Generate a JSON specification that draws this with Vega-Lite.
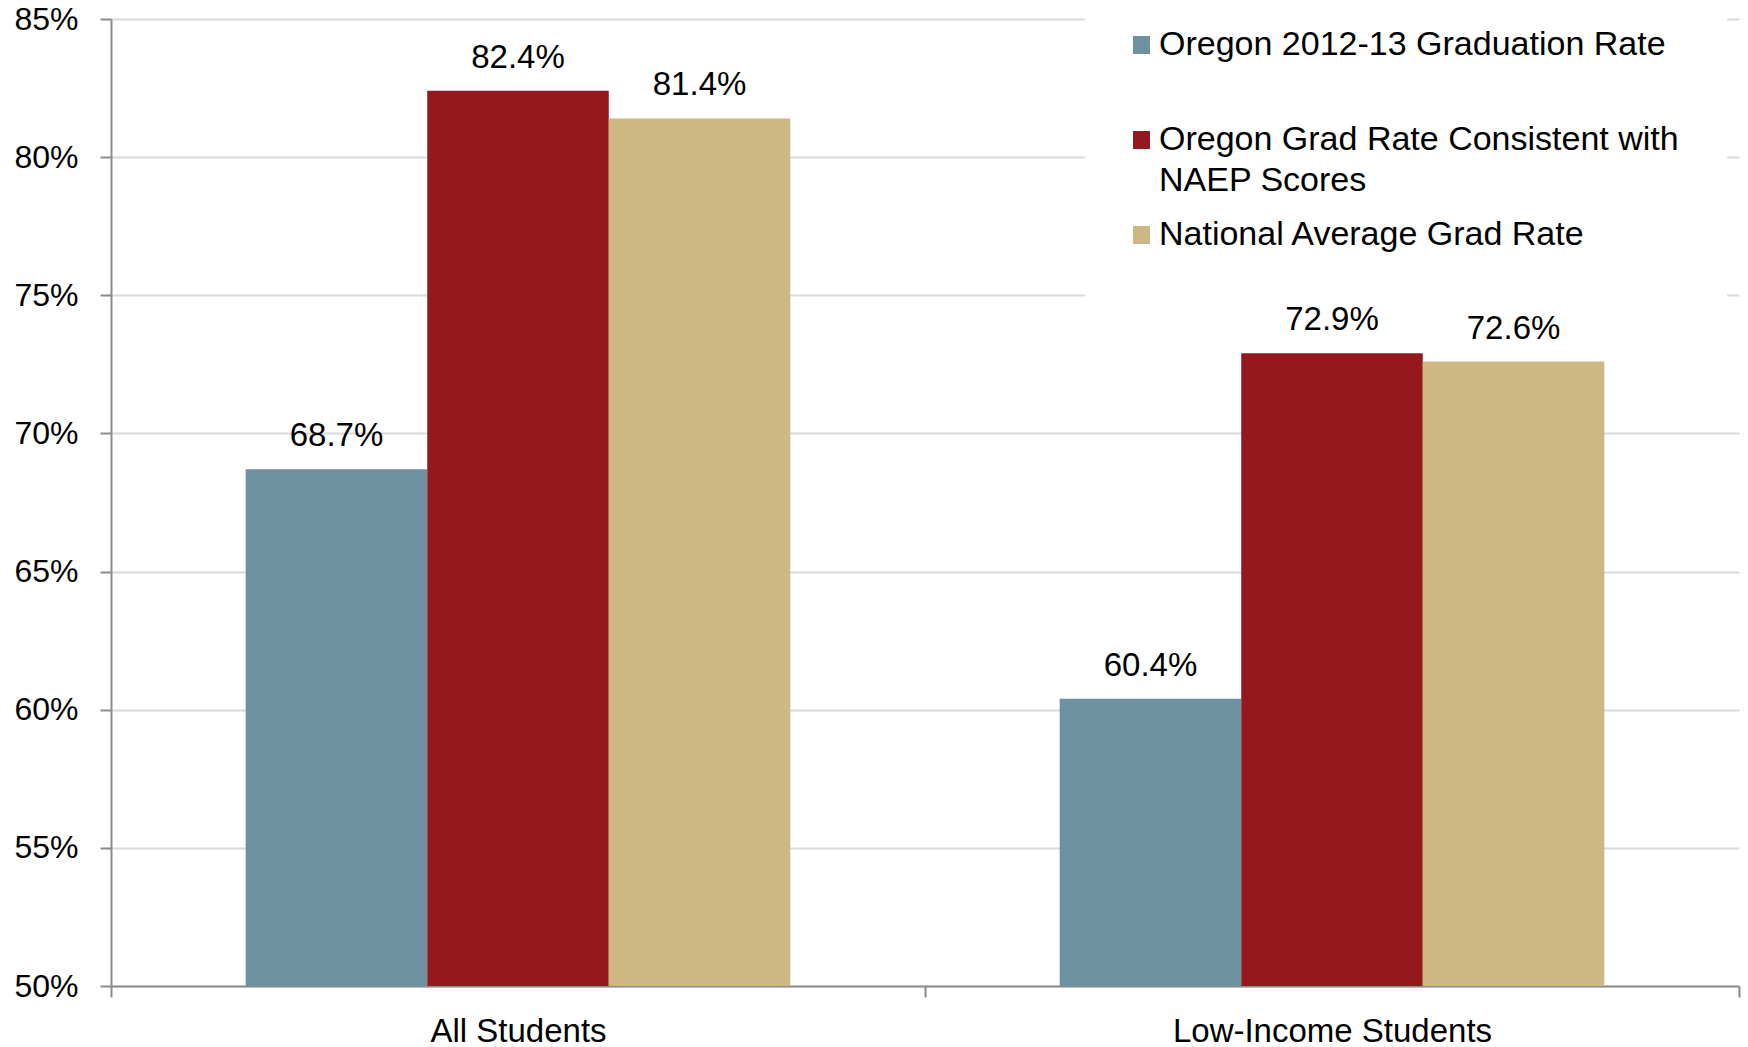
{
  "$schema": "https://vega.github.io/schema/vega-lite/v6.json",
  "width": 1628,
  "height": 967,
  "autosize": "none",
  "padding": {"left": 111, "top": 19, "right": 9, "bottom": 61},
  "background": "white",
  "config": {"view": {"stroke": null}},
  "data": {
    "values": [
      {"group": "All Students", "series": "Oregon 2012-13 Graduation Rate", "rate": 0.687},
      {"group": "All Students", "series": "Oregon Grad Rate Consistent with NAEP Scores", "rate": 0.824},
      {"group": "All Students", "series": "National Average Grad Rate", "rate": 0.814},
      {"group": "Low-Income Students", "series": "Oregon 2012-13 Graduation Rate", "rate": 0.604},
      {"group": "Low-Income Students", "series": "Oregon Grad Rate Consistent with NAEP Scores", "rate": 0.729},
      {"group": "Low-Income Students", "series": "National Average Grad Rate", "rate": 0.726}
    ]
  },
  "encoding": {
    "x": {
      "field": "group",
      "type": "nominal",
      "sort": null,
      "scale": {"paddingInner": 0, "paddingOuter": 0},
      "axis": {
        "title": null,
        "labelAngle": 0,
        "labelFont": "Liberation Sans",
        "labelFontSize": 33,
        "labelColor": "black",
        "labelPadding": 18,
        "labelLimit": 1000,
        "tickSize": 11,
        "tickColor": "#8c8c8c",
        "tickWidth": 2,
        "tickBand": "extent",
        "domainColor": "#8c8c8c",
        "domainWidth": 2,
        "grid": false
      }
    },
    "xOffset": {
      "field": "series",
      "type": "nominal",
      "sort": ["Oregon 2012-13 Graduation Rate", "Oregon Grad Rate Consistent with NAEP Scores", "National Average Grad Rate"],
      "scale": {"paddingInner": 0, "paddingOuter": 0.742}
    },
    "y": {
      "field": "rate",
      "type": "quantitative",
      "scale": {"domain": [0.5, 0.85], "nice": false, "zero": false},
      "axis": {
        "title": null,
        "format": ".0%",
        "values": [0.5, 0.55, 0.6, 0.65, 0.7, 0.75, 0.8, 0.85],
        "labelFont": "Liberation Sans",
        "labelFontSize": 32,
        "labelColor": "black",
        "labelPadding": 22,
        "tickSize": 11,
        "tickColor": "#8c8c8c",
        "tickWidth": 2,
        "domainColor": "#8c8c8c",
        "domainWidth": 2,
        "gridColor": "#d9d9d9",
        "gridWidth": 2
      }
    }
  },
  "layer": [
    {
      "mark": {"type": "bar", "clip": true},
      "encoding": {
        "color": {
          "field": "series",
          "type": "nominal",
          "scale": {
            "domain": ["Oregon 2012-13 Graduation Rate", "Oregon Grad Rate Consistent with NAEP Scores", "National Average Grad Rate"],
            "range": ["#6e91a1", "#95181e", "#cdb884"]
          },
          "legend": {
            "orient": "none",
            "legendX": 974,
            "legendY": -42,
            "title": null,
            "symbolType": "square",
            "symbolSize": 324,
            "symbolStrokeWidth": 0,
            "symbolOpacity": 1,
            "symbolOffset": -9,
            "labelFont": "Liberation Sans",
            "labelFontSize": 34,
            "labelColor": "black",
            "labelOffset": 1,
            "labelLimit": 700,
            "labelBaseline": "middle",
            "padding": 48,
            "fillColor": "white",
            "clipHeight": 40,
            "rowPadding": 17,
            "labelExpr": "datum.label == 'Oregon Grad Rate Consistent with NAEP Scores' ? ['Oregon Grad Rate Consistent with', 'NAEP Scores'] : datum.label == 'Oregon 2012-13 Graduation Rate' ? ['Oregon 2012-13 Graduation Rate', ' '] : datum.label",
            "encode": {"labels": {"update": {"lineHeight": {"value": 41}}}}
          }
        }
      }
    },
    {
      "mark": {"type": "text", "baseline": "alphabetic", "dy": -23, "font": "Liberation Sans", "fontSize": 33, "color": "black"},
      "encoding": {
        "text": {"field": "rate", "type": "quantitative", "format": ".1%"}
      }
    }
  ]
}
